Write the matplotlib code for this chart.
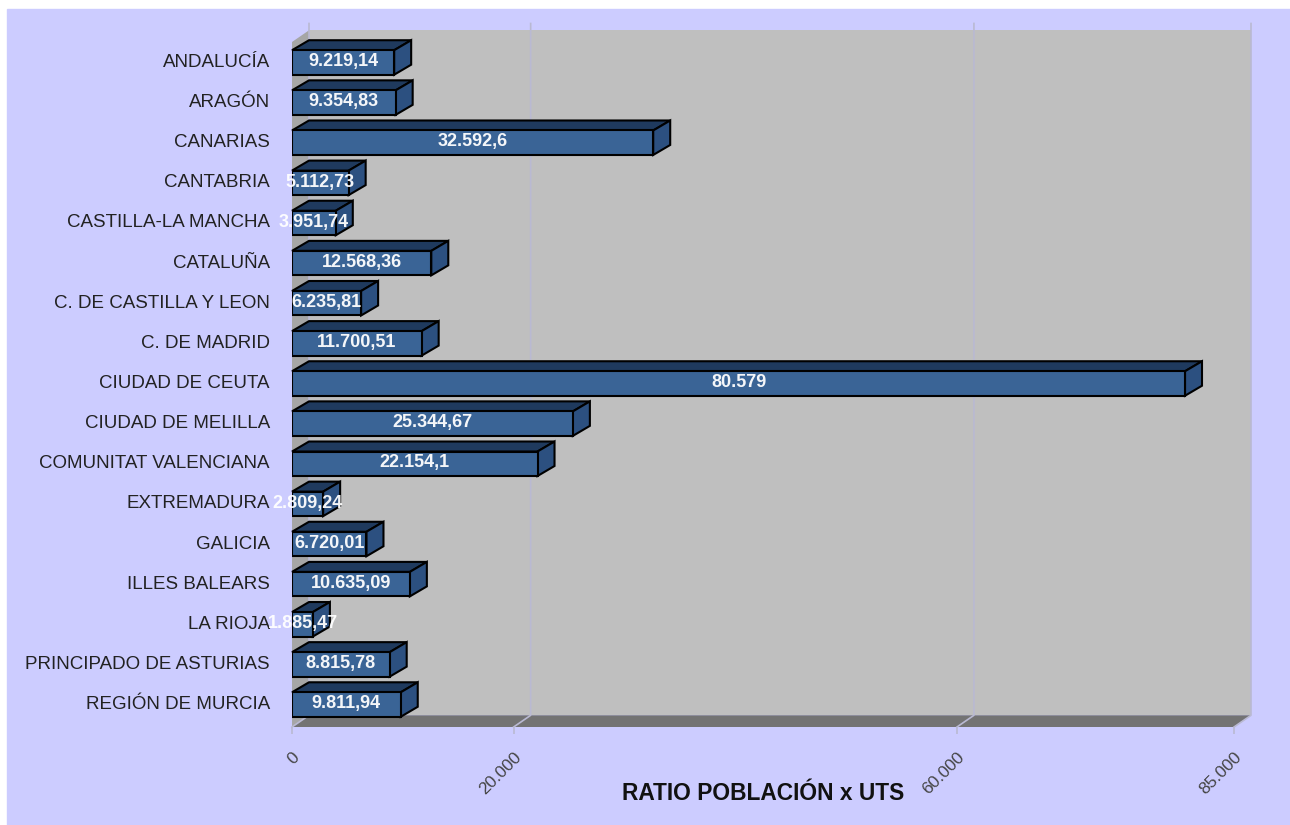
import matplotlib
matplotlib.use("Agg")
import matplotlib.pyplot as plt
from matplotlib.patches import Polygon, Rectangle
from matplotlib.transforms import ScaledTranslation

regions = ["ANDALUCÍA", "ARAGÓN", "CANARIAS", "CANTABRIA", "CASTILLA-LA MANCHA", "CATALUÑA",
           "C. DE CASTILLA Y LEON", "C. DE MADRID", "CIUDAD DE CEUTA", "CIUDAD DE MELILLA",
           "COMUNITAT VALENCIANA", "EXTREMADURA", "GALICIA", "ILLES BALEARS", "LA RIOJA",
           "PRINCIPADO DE ASTURIAS", "REGIÓN DE MURCIA"]
ratio = [9219.14, 9354.83, 32592.6, 5112.73, 3951.74, 12568.36, 6235.81, 11700.51, 80579,
         25344.67, 22154.1, 2809.24, 6720.01, 10635.09, 1885.47, 8815.78, 9811.94]
ratio_labels = ["9.219,14", "9.354,83", "32.592,6", "5.112,73", "3.951,74", "12.568,36", "6.235,81",
                "11.700,51", "80.579", "25.344,67", "22.154,1", "2.809,24", "6.720,01", "10.635,09",
                "1.885,47", "8.815,78", "9.811,94"]
x_ticks = [0, 20000, 60000, 85000]
x_tick_labels = ["0", "20.000", "60.000", "85.000"]

W, H = 1290, 825
plt.rcParams['font.family'] = ['Liberation Sans', 'DejaVu Sans']

fig = plt.figure(figsize=(W / 100, H / 100), dpi=100, facecolor="white")
fig.add_artist(Rectangle((7 / W, 0), 1, 1 - 9 / H, transform=fig.transFigure, color="#ccccff", zorder=-5))

# front plane of the 3d box
ax = fig.add_axes([292 / W, 1 - 727 / H, 942 / W, 685 / H])
ax.patch.set_visible(False)
for s in ax.spines.values():
    s.set_visible(False)

xmax = 85000
ax.set_xlim(0, xmax)
y_top, y_bot = -0.51, 16.56
ax.set_ylim(y_bot, y_top)

dx = xmax * 17 / 942
dy = -11.7 / 40.125
bar_dy = -10 / 40.125
bar_h = 0.61


def poly(pts, color, z, ec="none", lw=0):
    ax.add_patch(Polygon(pts, closed=True, facecolor=color, edgecolor=ec, linewidth=lw,
                         zorder=z, clip_on=False, joinstyle="miter"))


# walls and floor
poly([(dx, y_bot + dy), (xmax + dx, y_bot + dy), (xmax + dx, y_top + dy), (dx, y_top + dy)], "#bfbfbf", 1)
poly([(0, y_top), (dx, y_top + dy), (dx, y_bot + dy), (0, y_bot)], "#a6a6a6", 1)
poly([(0, y_bot), (xmax, y_bot), (xmax + dx, y_bot + dy), (dx, y_bot + dy)], "#737373", 1)

# grid lines go up the back wall and then slant down the floor
for t in x_ticks:
    ax.plot([t, t + dx, t + dx], [y_bot, y_bot + dy, y_top + dy - 0.17], color="#b9b9d2", lw=1.2,
            zorder=2, clip_on=False)

# bars
ax.barh(range(len(regions)), ratio, height=bar_h, color="#3a6496", edgecolor="black", linewidth=1.5, zorder=5)
for i, v in enumerate(ratio):
    t, b = i - bar_h / 2, i + bar_h / 2
    poly([(0, t), (v, t), (v + dx, t + bar_dy), (dx, t + bar_dy)], "#1f3a5e", 4, "black", 1.5)
    poly([(v, t), (v + dx, t + bar_dy), (v + dx, b + bar_dy), (v, b)], "#2c5080", 4, "black", 1.5)
    ax.text(v / 2, i - 0.02, ratio_labels[i], color="white", fontsize=13, fontweight="bold", ha="center",
            va="center", zorder=6, clip_on=False, alpha=0.95)

ax.set_yticks(range(len(regions)))
ax.set_yticklabels(regions, fontsize=13.5, color="#222222")
ax.tick_params(axis="y", length=0, pad=16)
up = ScaledTranslation(0, 2 / 100, fig.dpi_scale_trans)
for lab in ax.get_yticklabels():
    lab.set_transform(lab.get_transform() + up)

ax.set_xticks(x_ticks)
ax.set_xticklabels(x_tick_labels, fontsize=12.4, color="#444444", rotation=45, ha="right", va="center",
                   rotation_mode="anchor")
ax.tick_params(axis="x", length=5, width=1.2, color="#b9b9d2", pad=0)
shift = ScaledTranslation(5 / 100, -21 / 100, fig.dpi_scale_trans)
for lab in ax.get_xticklabels():
    lab.set_transform(lab.get_transform() + shift)

fig.text(763.5 / W, 1 - 791 / H, "RATIO POBLACIÓN x UTS", fontsize=16.4, fontweight="bold", color="#111111",
         ha="center", va="center_baseline")

fig.savefig("out.png", dpi=100)
